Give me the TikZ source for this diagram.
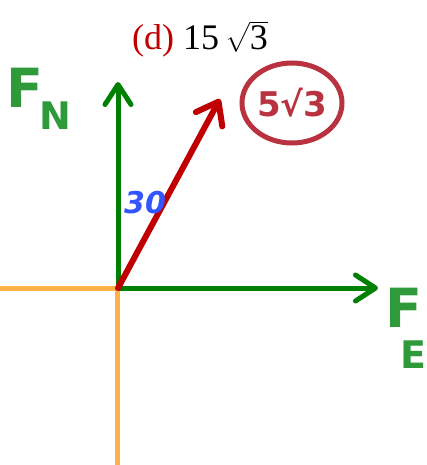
\documentclass[tikz,border=0pt]{standalone}
\usepackage{exscale}
\usepackage{fontspec}
\setmainfont{Liberation Serif}
\newfontfamily\hand{DejaVu Sans}
\usetikzlibrary{arrows.meta,shapes.geometric}
\definecolor{ggreen}{HTML}{008000}
\definecolor{hgreen}{HTML}{2F9A3A}
\definecolor{orng}{HTML}{FFB347}
\definecolor{dred}{HTML}{C00000}
\definecolor{crim}{HTML}{B8323F}
\definecolor{hblue}{HTML}{3355FF}
\tikzset{
  barb/.tip={Straight Barb[length=20pt,width=26pt,line width=5pt,round]},
  axisline/.style={orng,line width=5pt},
  vec/.style={ggreen,line width=5pt,-barb},
  redvec/.style={dred,line width=6pt,line cap=round,-{Straight Barb[length=20pt,width=30pt,line width=6pt,round]}},
  handlbl/.style={inner sep=0pt,font=\hand\bfseries},
}
\begin{document}
\begin{tikzpicture}[x=1pt,y=-1pt]
\useasboundingbox (0,0) rectangle (426,465);
\coordinate (O) at (118,288);
\coordinate (L) at (0,288);
\coordinate (D) at (117,465);
\coordinate (U) at (118,82);
\coordinate (R) at (378,288);
\coordinate (P) at (220,99);
\draw[axisline] (L) -- (O);
\draw[axisline] (117,286) -- (D);
\draw[vec] (O) -- (U);
\draw[vec] (O) -- (R);
\draw[redvec] (O) -- (P);
\node[anchor=base,inner sep=0pt,font=\fontsize{36}{38}\selectfont] (title) at (200,50)
  {\textcolor{dred}{(d)} 15\,$\smash{\sqrt{\mbox{3}}}$};
\node[handlbl,hgreen,font=\hand\bfseries\fontsize{54}{54}\selectfont] (fnF) at (25,88) {F};
\node[handlbl,hgreen,font=\hand\bfseries\fontsize{38}{38}\selectfont] (fnN) at (55,116) {N};
\node[handlbl,hgreen,font=\hand\bfseries\fontsize{54}{54}\selectfont] (feF) at (404,308) {F};
\node[handlbl,hgreen,font=\hand\bfseries\fontsize{38}{38}\selectfont] (feE) at (413,355) {E};
\node[handlbl,hblue,font=\hand\bfseries\itshape\fontsize{30}{30}\selectfont] (ang) at (145,203) {30};
\node[ellipse,draw=crim,line width=5pt,text=crim,minimum width=100pt,minimum height=80pt,inner sep=0pt,
  font=\hand\bfseries\fontsize{34}{34}\selectfont] (ans) at (292,103) {5√3};
\end{tikzpicture}
\end{document}
